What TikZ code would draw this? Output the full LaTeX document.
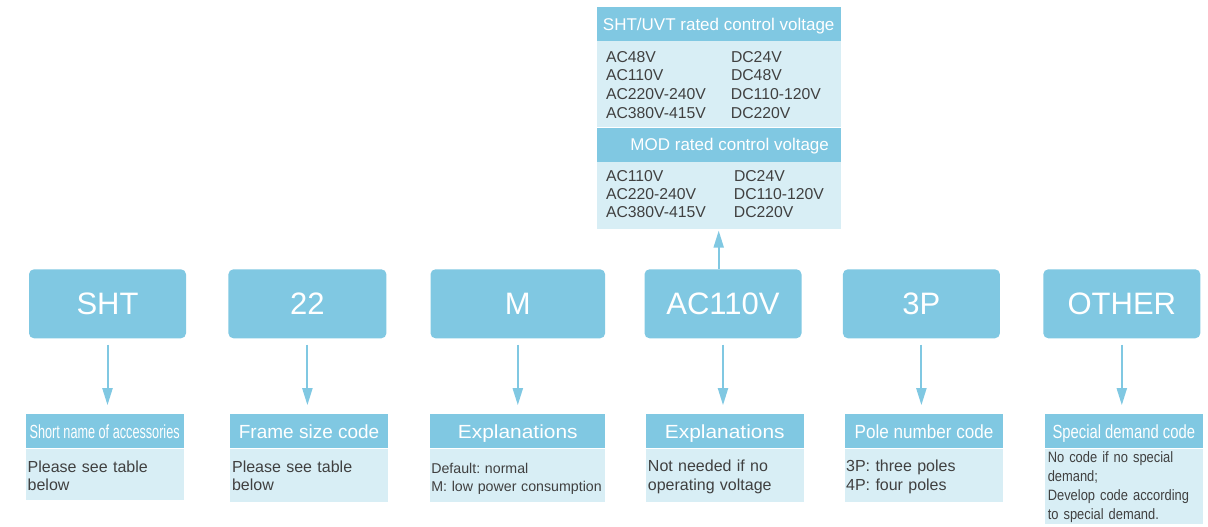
\documentclass[tikz,border=0pt]{standalone}
\usepackage{fontspec}
\setmainfont{Liberation Sans}
\newfontfamily\narrowfont[FakeStretch=0.86]{Liberation Sans}
\usepackage{graphicx}
\usetikzlibrary{positioning}
\usetikzlibrary{arrows.meta}
\frenchspacing
\definecolor{codeblue}{RGB}{128,200,226}
\definecolor{paleblue}{RGB}{216,238,245}
\definecolor{darktext}{RGB}{64,64,64}
\newcommand{\xsqueeze}[2]{\scalebox{#1}[1]{#2}}
\tikzset{code node/.style={shape=rectangle, rounded corners=5pt,
    fill=codeblue, text=white, inner sep=0pt,
    minimum width=157pt, minimum height=69pt,
    text height=22.2pt, text depth=0pt,
    font=\fontsize{31}{31}\selectfont}}
\tikzset{head node/.style={shape=rectangle, fill=codeblue, text=white,
    inner sep=0pt, minimum width=158pt, minimum height=33.7pt,
    text height=13.6pt, text depth=0pt,
    font=\fontsize{19}{19}\selectfont}}
\tikzset{info node/.style={shape=rectangle, fill=paleblue, text=darktext,
    align=left, inner xsep=2pt, inner ysep=0pt, text width=154pt,
    text height=24pt, text depth=29pt,
    font=\fontsize{16}{18.3}\selectfont}}
\tikzset{link/.style={draw=codeblue, line width=2pt,
    -{Triangle[width=10pt,length=17pt]}}}

\begin{document}
\begin{tikzpicture}[x=1pt, y=-1pt]
    \useasboundingbox (0,0) rectangle (1208,527);

    \node[code node] (sht) at (107.5,303.8) {SHT};
    \node[code node, minimum width=158pt] (frame) [right = 42pt of sht] {22};
    \node[code node, minimum width=174.6pt] (mode) [right = 43.7pt of frame] {M};
    \node[code node] (volt) [right = 39pt of mode] {AC110V};
    \node[code node] (pole) [right = 41pt of volt] {3P};
    \node[code node] (other) [right = 43pt of pole] {OTHER};

%   rated control voltage table
    \node[head node, minimum width=244pt, minimum height=33.4pt,
        text height=12.2pt, font=\fontsize{17}{17}\selectfont] (ratedh) at (718.7,24)
        {SHT/UVT rated control voltage};
    \node[info node, text width=225.4pt, inner xsep=9.3pt, text height=21pt,
        text depth=65pt, font=\fontsize{15.75}{18.9}\selectfont] (ratedb) [below = 0pt of ratedh]
        {\makebox[125pt][l]{AC48V}DC24V\\
         \makebox[125pt][l]{AC110V}DC48V\\
         \makebox[125pt][l]{AC220V-240V}DC110-120V\\
         \makebox[125pt][l]{AC380V-415V}DC220V};
    \node[head node, minimum width=244pt, minimum height=34.3pt,
        text height=12.2pt, font=\fontsize{17}{17}\selectfont] (modh) [below = 0pt of ratedb]
        {\hspace*{22pt}MOD rated control voltage};
    \node[info node, text width=225.4pt, inner xsep=9.3pt, text height=19pt,
        text depth=47.7pt, font=\fontsize{15.75}{18.3}\selectfont] (modb) [below = 0pt of modh]
        {\makebox[128pt][l]{AC110V}DC24V\\
         \makebox[128pt][l]{AC220-240V}DC110-120V\\
         \makebox[128pt][l]{AC380V-415V}DC220V};

%   explanations
    \node[head node] (shth) [below = 75.7pt of sht, xshift=-2.8pt]
        {\xsqueeze{0.667}{Short name of accessories}};
    \node[info node, text depth=27.3pt] (shtb) [below = 0pt of shth] {Please see table\\below};

    \node[head node] (frameh) [below = 75.7pt of frame, xshift=1.7pt] {Frame size code};
    \node[info node] (frameb) [below = 0pt of frameh] {Please see table\\below};

    \node[head node, minimum width=175pt] (modeh) [below = 75.7pt of mode]
        {\xsqueeze{1.1}{Explanations}};
    \node[info node, text width=173pt, inner xsep=1pt, text height=24.6pt, text depth=28.4pt,
        font=\fontsize{14.2}{18.4}\selectfont] (modeb) [below = 0pt of modeh]
        {Default: normal\\M: low power consumption};

    \node[head node, minimum width=157.7pt] (volth) [below = 75.7pt of volt, xshift=1.8pt]
        {\xsqueeze{1.1}{Explanations}};
    \node[info node, text width=153.7pt, text height=23.3pt, text depth=29.7pt,
        font=\fontsize{16}{19}\selectfont] (voltb) [below = 0pt of volth]
        {Not needed if no\\operating voltage};

    \node[head node, minimum width=157.7pt] (poleh) [below = 75.7pt of pole, xshift=2.6pt]
        {\xsqueeze{0.9}{Pole number code}};
    \node[info node, text width=155.7pt, inner xsep=1pt, text height=23.3pt, text depth=29.7pt,
        font=\fontsize{16}{19}\selectfont] (poleb) [below = 0pt of poleh]
        {3P: three poles\\4P: four poles};

    \node[head node] (otherh) [below = 75.7pt of other, xshift=2pt]
        {\xsqueeze{0.78}{Special demand code}};
    \node[info node, inner xsep=3pt, text width=152pt, text height=14pt, text depth=61pt,
        font=\narrowfont\fontsize{15}{19}\selectfont] (otherb) [below = 0pt of otherh]
        {No code if no special\\demand;\\Develop code according\\to special demand.};

    \foreach \a/\b in {sht/shth, frame/frameh, mode/modeh, volt/volth, pole/poleh, other/otherh}
        \draw[link, shorten <=6pt, shorten >=9pt] (\a.south) -- (\a.south |- \b.north);
    \draw[link, shorten >=1.5pt] (modb.south |- volt.north) -- (modb.south);
\end{tikzpicture}
\end{document}
